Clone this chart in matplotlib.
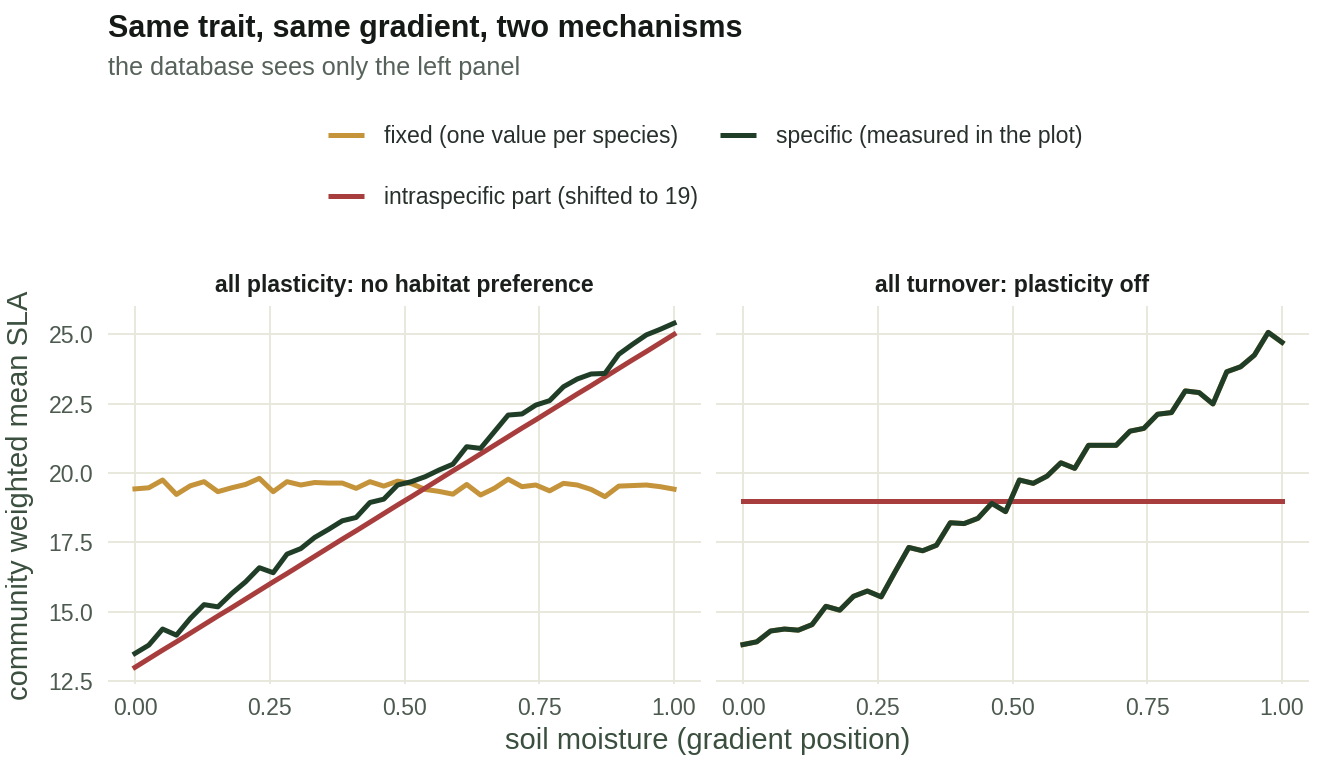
import numpy as np
import matplotlib
matplotlib.use("Agg")
import matplotlib.pyplot as plt
from matplotlib.lines import Line2D

plt.rcParams['font.family'] = ['Liberation Sans', 'DejaVu Sans']

# gradient position (40 plots along the soil moisture gradient)
gradiente = np.linspace(0, 1, 40)

# panel izquierdo: toda la variacion es plasticidad
fijo_izq = [19.43, 19.47, 19.75, 19.23, 19.54, 19.69, 19.33, 19.47, 19.59, 19.81,
            19.33, 19.69, 19.57, 19.66, 19.64, 19.64, 19.45, 19.69, 19.53, 19.71,
            19.62, 19.41, 19.34, 19.24, 19.59, 19.21, 19.45, 19.78, 19.51, 19.57,
            19.36, 19.63, 19.57, 19.41, 19.15, 19.53, 19.55, 19.57, 19.51, 19.42]
especifico_izq = [13.50, 13.80, 14.38, 14.16, 14.76, 15.26, 15.18, 15.66, 16.08, 16.59,
                  16.41, 17.08, 17.28, 17.68, 17.97, 18.28, 18.40, 18.94, 19.06, 19.57,
                  19.69, 19.87, 20.11, 20.32, 20.95, 20.89, 21.49, 22.09, 22.13, 22.45,
                  22.61, 23.11, 23.39, 23.57, 23.59, 24.28, 24.64, 24.98, 25.18, 25.40]
intra_izq = [13.00, 13.31, 13.62, 13.92, 14.23, 14.54, 14.85, 15.15, 15.46, 15.77,
             16.08, 16.38, 16.69, 17.00, 17.31, 17.62, 17.92, 18.23, 18.54, 18.85,
             19.15, 19.46, 19.77, 20.08, 20.38, 20.69, 21.00, 21.31, 21.62, 21.92,
             22.23, 22.54, 22.85, 23.15, 23.46, 23.77, 24.08, 24.38, 24.69, 25.00]

# panel derecho: todo es recambio de especies, sin plasticidad
especifico_der = [13.82, 13.92, 14.31, 14.38, 14.34, 14.54, 15.20, 15.06, 15.56, 15.75,
                  15.54, 16.44, 17.32, 17.20, 17.40, 18.21, 18.18, 18.37, 18.91, 18.61,
                  19.75, 19.63, 19.89, 20.37, 20.17, 21.00, 21.00, 21.00, 21.51, 21.61,
                  22.12, 22.18, 22.96, 22.90, 22.49, 23.65, 23.83, 24.25, 25.07, 24.71]
fijo_der = especifico_der  # sin plasticidad, fijo == especifico
intra_der = [19.0] * 40

paneles = [
    ("all plasticity: no habitat preference", fijo_izq, especifico_izq, intra_izq),
    ("all turnover: plasticity off", fijo_der, especifico_der, intra_der),
]

c_fijo = "#c4933a"
c_espec = "#1f3d27"
c_intra = "#a83d3d"
c_grid = "#e6e6da"
c_tick = "#4d5a50"
c_lab = "#3b4f3f"
grosor = 3.6

fig = plt.figure(figsize=(13.24, 7.68), dpi=100)
ancho = 593 / 1324
alto = (684 - 306) / 768
abajo = 1 - 684 / 768
izquierdas = [108 / 1324, 716 / 1324]

for k, (titulo, fijo, espec, intra) in enumerate(paneles):
    ax = fig.add_axes([izquierdas[k], abajo, ancho, alto])
    ax.plot(gradiente, fijo, color=c_fijo, lw=grosor, zorder=3)
    ax.plot(gradiente, intra, color=c_intra, lw=grosor, zorder=4)
    ax.plot(gradiente, espec, color=c_espec, lw=grosor, zorder=5)
    ax.set_xlim(-0.05, 1.05)
    ax.set_ylim(12.4, 26.02)
    ax.set_xticks([0, 0.25, 0.5, 0.75, 1.0])
    ax.set_xticklabels(["0.00", "0.25", "0.50", "0.75", "1.00"])
    ax.set_yticks([12.5, 15.0, 17.5, 20.0, 22.5, 25.0])
    if k == 0:
        ax.set_yticklabels(["12.5", "15.0", "17.5", "20.0", "22.5", "25.0"])
    else:
        ax.set_yticklabels([])
    ax.grid(True, color=c_grid, lw=1.3, zorder=0)
    ax.set_axisbelow(True)
    for s in ax.spines.values():
        s.set_visible(False)
    ax.tick_params(length=0, labelsize=16.6, colors=c_tick)
    ax.tick_params(axis='y', pad=10.5)
    ax.tick_params(axis='x', pad=9.5)
    ax.set_title(titulo, fontsize=16.6, fontweight='bold', color="#1a1f1b", pad=10)

fig.text(708 / 1324, 1 - 741 / 768, "soil moisture (gradient position)", ha='center',
         va='center', fontsize=21, color=c_lab)
fig.text(20 / 1324, 1 - 495 / 768, "community weighted mean SLA", ha='center',
         va='center', rotation=90, fontsize=21, color=c_lab)

fig.text(108 / 1324, 1 - 29 / 768, "Same trait, same gradient, two mechanisms",
         fontsize=22, fontweight='bold', color="#151a16", va='center')
fig.text(108 / 1324, 1 - 68 / 768, "the database sees only the left panel",
         fontsize=18.2, color="#56625a", va='center')

manijas = [Line2D([], [], color=c_fijo, lw=grosor, solid_capstyle='butt'),
           Line2D([], [], color=c_intra, lw=grosor, solid_capstyle='butt'),
           Line2D([], [], color=c_espec, lw=grosor, solid_capstyle='butt')]
etiquetas = ["fixed (one value per species)", "intraspecific part (shifted to 19)",
             "specific (measured in the plot)"]
fig.legend(manijas, etiquetas, ncol=2, loc='upper left', bbox_to_anchor=(307 / 1324, 1 - 104 / 768),
           frameon=False, fontsize=16.6, handlelength=1.56, handletextpad=0.87,
           columnspacing=0.95, labelspacing=1.67, labelcolor="#27302a")

plt.savefig("out.png", dpi=100)
